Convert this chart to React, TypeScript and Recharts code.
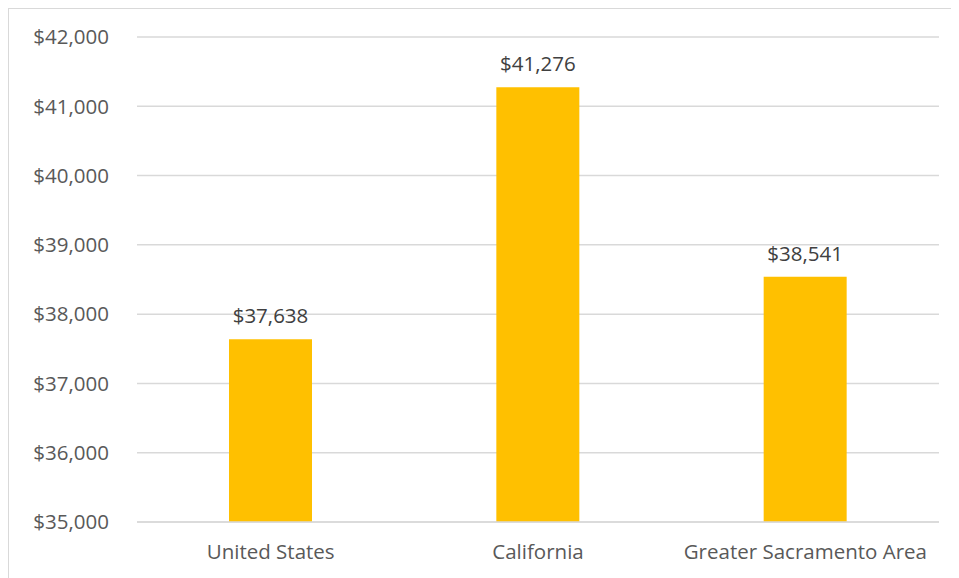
import React from "react";
import { BarChart, Bar, XAxis, YAxis, CartesianGrid, LabelList } from "recharts";

const categories = ["United States", "California", "Greater Sacramento Area"];
const values = [37638, 41276, 38541];
const yTicks = [35000, 36000, 37000, 38000, 39000, 40000, 41000, 42000];

const data = categories.map((name, i) => ({ name, value: values[i] }));

const fmt = (v: number) => "$" + v.toLocaleString("en-US");

const FONT = "'Open Sans', sans-serif";
const FS = 20.5;

export default function App() {
  return (
    <div
      style={{
        width: 951,
        height: 570,
        borderTop: "1px solid #d9d9d9",
        borderLeft: "1px solid #d9d9d9",
        boxSizing: "border-box",
        fontFamily: FONT,
      }}
    >
      <BarChart
        width={950}
        height={569}
        data={data}
        margin={{ top: 28, right: 20, bottom: 18, left: 0 }}
        barSize={83}
      >
        <CartesianGrid vertical={false} stroke="#d9d9d9" strokeWidth={1.5} />
        <XAxis
          dataKey="name"
          height={38}
          tickLine={false}
          axisLine={{ stroke: "#d9d9d9", strokeWidth: 1.5 }}
          tick={{ fill: "#595959", fontSize: FS, fontFamily: FONT }}
          tickSize={0}
          tickMargin={22}
        />
        <YAxis
          domain={[35000, 42000]}
          ticks={yTicks}
          tickFormatter={fmt}
          axisLine={false}
          tickLine={false}
          tickSize={0}
          tickMargin={28}
          width={128}
          tick={{ fill: "#595959", fontSize: FS, fontFamily: FONT }}
        />
        <Bar dataKey="value" fill="#FFC000" isAnimationActive={false}>
          <LabelList
            dataKey="value"
            position="top"
            offset={16}
            formatter={(v: any) => fmt(Number(v))}
            style={{ fill: "#404040", fontSize: FS, fontFamily: FONT }}
          />
        </Bar>
      </BarChart>
    </div>
  );
}
